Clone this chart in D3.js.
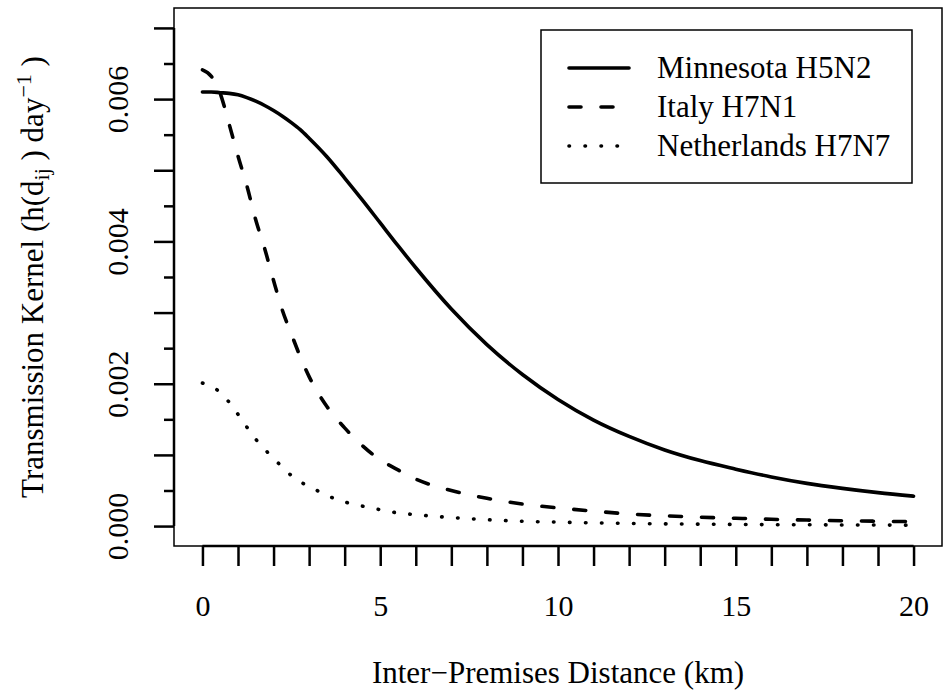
<!DOCTYPE html>
<html>
<head>
<meta charset="utf-8">
<script src="https://cdn.jsdelivr.net/npm/d3@7"></script>
<style>
  body { margin: 0; background: #fff; }
  text { font-family: "Liberation Serif", "Times New Roman", serif; fill: #000; }
</style>
</head>
<body>
<script>
// distance from premises (km)
var distKm = [0, 0.25, 0.5, 0.75, 1, 1.25, 1.5, 1.75, 2, 2.25, 2.5, 2.75, 3, 3.5, 4, 4.5, 5, 5.5, 6,
              7, 8, 9, 10, 11, 12, 13, 14, 15, 16, 17, 18, 19, 20];

// transmission kernel values
var minnesotaH5N2 = [0.00610, 0.00610, 0.00609, 0.00608, 0.00606, 0.00602, 0.00597, 0.00591, 0.00584,
                     0.00576, 0.00567, 0.00557, 0.00545, 0.00519, 0.00489, 0.00458, 0.00426, 0.00394,
                     0.00363, 0.00305, 0.00255, 0.00213, 0.00178, 0.00149, 0.00126, 0.00107, 0.00092,
                     0.00080, 0.00069, 0.00060, 0.00053, 0.00047, 0.00042];
var italyH7N1 = [0.00641, 0.00632, 0.00608, 0.00565, 0.00520, 0.00478, 0.00430, 0.00390, 0.00345,
                 0.00303, 0.00270, 0.00238, 0.00210, 0.00168, 0.00138, 0.00113, 0.00093, 0.00079,
                 0.00066, 0.00050, 0.00039, 0.00031, 0.000255, 0.00021, 0.00017, 0.000145, 0.000125,
                 0.00011, 0.000095, 0.000085, 0.000075, 0.000068, 0.000062];
var netherlandsH7N7 = [0.00201, 0.00196, 0.00188, 0.00174, 0.00157, 0.00139, 0.00122, 0.00108, 0.00095,
                       0.00083, 0.00071, 0.00062, 0.00056, 0.00043, 0.00034, 0.00028, 0.00023, 0.000185,
                       0.00016, 0.00012, 0.00009, 0.000068, 0.000055, 0.000045, 0.000037, 0.000031,
                       0.000027, 0.000023, 0.000020, 0.000018, 0.000016, 0.000014, 0.000013];

var seriesNames = ["Minnesota H5N2", "Italy H7N1", "Netherlands H7N7"];

var xTicks = d3.range(0, 21, 1);
var xLabels = [0, 5, 10, 15, 20];
var yMajor = [0, 0.001, 0.002, 0.003, 0.004, 0.005, 0.006, 0.007];
var yMinor = [0.0005, 0.0015, 0.0025, 0.0035, 0.0045, 0.0055, 0.0065];
var yLabels = [0, 0.002, 0.004, 0.006];

var width = 943, height = 698;
var plotL = 174, plotR = 942, plotT = 8, plotB = 546;

var svg = d3.select("body")
            .append("svg")
               .attr("width", width)
               .attr("height", height);

svg.append("rect")
   .attr("width", width).attr("height", height)
   .attr("fill", "#fff");

// R style: 4% padding on each side
var x = d3.scaleLinear().domain([-0.8, 20.8]).range([plotL, plotR]);
var y = d3.scaleLinear().domain([-0.00028, 0.00728]).range([plotB, plotT]);

// plot box
svg.append("rect")
   .attr("x", plotL).attr("y", plotT)
   .attr("width", plotR - plotL).attr("height", plotB - plotT)
   .attr("fill", "none")
   .attr("stroke", "#000")
   .attr("stroke-width", 1.5);

// x axis
var xAxis = d3.axisBottom(x)
      .tickValues(xTicks)
      .tickSize(20)
      .tickSizeOuter(0)
      .tickFormat(function(d) { return xLabels.indexOf(d) >= 0 ? d : ""; });

var gx = svg.append("g")
   .attr("transform", "translate(0," + plotB + ")")
   .call(xAxis);
gx.select(".domain").attr("stroke-width", 2.5)
   .attr("d", "M" + x(0) + ",0H" + x(20));
gx.selectAll(".tick line").attr("stroke-width", 2.5);
gx.selectAll(".tick text")
   .attr("y", 70)
   .attr("dy", 0)
   .style("font-size", "30px")
   .style("font-family", "'Liberation Serif', serif");

// y axis, major ticks carry labels, minor ticks are shorter
var yAxis = d3.axisLeft(y)
      .tickValues(yMajor)
      .tickSize(20)
      .tickSizeOuter(0)
      .tickFormat(function(d) {
         return yLabels.some(function(v) { return Math.abs(v - d) < 1e-9; }) ? d3.format(".3f")(d) : "";
      });

var gy = svg.append("g")
   .attr("transform", "translate(" + plotL + ",0)")
   .call(yAxis);
gy.select(".domain").attr("stroke-width", 2.5)
   .attr("d", "M0," + y(0) + "V" + y(0.007));
gy.selectAll(".tick line").attr("stroke-width", 2.5);
gy.selectAll(".tick text")
   .attr("x", 0).attr("dy", 0)
   .attr("text-anchor", "middle")
   .attr("transform", "translate(-46,0) rotate(-90)")
   .style("font-size", "30px")
   .style("font-family", "'Liberation Serif', serif");

var gyMinor = svg.append("g")
   .attr("transform", "translate(" + plotL + ",0)")
   .call(d3.axisLeft(y).tickValues(yMinor).tickSize(10).tickSizeOuter(0).tickFormat(""));
gyMinor.select(".domain").remove();
gyMinor.selectAll(".tick line").attr("stroke-width", 2.5);

// curves
var line = d3.line()
   .x(function(d) { return x(d[0]); })
   .y(function(d) { return y(d[1]); })
   .curve(d3.curveMonotoneX);

var styles = [
   { dash: null },
   { dash: "12,20" },
   { dash: "0.5,15.5" }
];
var allSeries = [minnesotaH5N2, italyH7N1, netherlandsH7N7];

svg.selectAll(".curve")
   .data(allSeries)
   .enter().append("path")
      .attr("class", "curve")
      .attr("d", function(vals) { return line(vals.map(function(v, i) { return [distKm[i], v]; })); })
      .attr("fill", "none")
      .attr("stroke", "#000")
      .attr("stroke-width", 3.6)
      .attr("stroke-linecap", "round")
      .attr("stroke-dasharray", function(d, i) { return styles[i].dash; });

// legend
var legend = svg.append("g");
legend.append("rect")
   .attr("x", 541).attr("y", 30)
   .attr("width", 371).attr("height", 153)
   .attr("fill", "#fff")
   .attr("stroke", "#000")
   .attr("stroke-width", 1.5);

var rowY = [68, 107, 146];
seriesNames.forEach(function(name, i) {
   legend.append("line")
      .attr("x1", 569).attr("x2", 629)
      .attr("y1", rowY[i]).attr("y2", rowY[i])
      .attr("stroke", "#000")
      .attr("stroke-width", 3.6)
      .attr("stroke-linecap", "round")
      .attr("stroke-dasharray", styles[i].dash);
   legend.append("text")
      .attr("x", 657).attr("y", rowY[i] + 10)
      .style("font-size", "31px")
      .text(name);
});

// axis titles
svg.append("text")
   .attr("x", (plotL + plotR) / 2).attr("y", 683)
   .attr("text-anchor", "middle")
   .style("font-size", "31px")
   .text("Inter\u2212Premises Distance (km)");

var yt = svg.append("text")
   .attr("transform", "translate(43," + (plotT + plotB) / 2 + ") rotate(-90)")
   .attr("text-anchor", "middle")
   .style("font-size", "31px");
yt.append("tspan").text("Transmission Kernel (h(d");
yt.append("tspan").attr("dy", 6).style("font-size", "22px").text("ij");
yt.append("tspan").attr("dy", -6).text(" )  day");
yt.append("tspan").attr("dy", -12).style("font-size", "22px").text("\u22121");
yt.append("tspan").attr("dy", 12).text(" )");
</script>
</body>
</html>
